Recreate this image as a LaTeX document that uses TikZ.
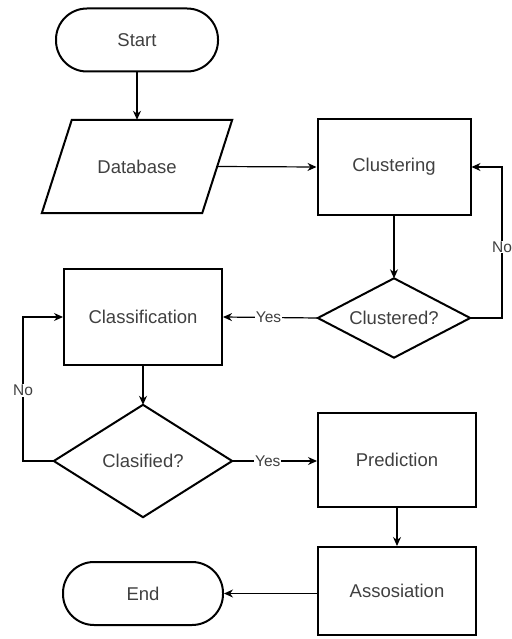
\documentclass[tikz,border=0pt]{standalone}
\usepackage{fontspec}
\setmainfont{Liberation Sans}
\usetikzlibrary{arrows.meta}
\definecolor{txt}{HTML}{404040}
\begin{document}
\begin{tikzpicture}[x=1pt,y=-1pt,
  every node/.style={font=\fontsize{18.5}{21}\selectfont, text=txt, inner sep=0pt},
  box/.style={draw, line width=2pt, minimum width=#1},
  box/.default=156pt,
  term/.style={draw, line width=2pt, rounded corners=31pt, minimum height=63pt},
  plain/.style={},
  shapeline/.style={line width=2pt, line join=miter},
  conn/.style={line width=1.2pt, -{Stealth[length=9pt,width=8pt]}},
  lbl/.style={fill=white, font=\fontsize{15.5}{17}\selectfont, inner sep=1pt}]
\useasboundingbox (0,0) rectangle (511,639);
% nodes
\node[term, minimum width=162pt] (start) at (137,40) {Start};
\node[plain, minimum width=190pt, minimum height=93pt] (db) at (137,166.5) {Database};
\draw[shapeline] ([xshift=30pt]db.north west) -- (db.north east) -- ([xshift=-30pt]db.south east) -- (db.south west) -- cycle;
\node[box=153pt, minimum height=95pt] (clus) at (394,167) {Clustering};
\node[plain, minimum width=152pt, minimum height=79pt] (cd) at (394,318) {Clustered?};
\draw[shapeline] (cd.north) -- (cd.east) -- (cd.south) -- (cd.west) -- cycle;
\node[box=158pt, minimum height=96pt] (cls) at (143,317) {Classification};
\node[plain, minimum width=178pt, minimum height=112pt] (cf) at (143,461) {Clasified?};
\draw[shapeline] (cf.north) -- (cf.east) -- (cf.south) -- (cf.west) -- cycle;
\node[box=158pt, minimum height=94pt] (pred) at (397,460) {Prediction};
\node[box=158pt, minimum height=88pt] (asso) at (397,591) {Assosiation};
\node[term, minimum width=160pt] (end) at (143,593.5) {End};
% connectors
\draw[conn] (start.south) -- (db.north);
\draw[conn] ([xshift=-15pt]db.east) -- (clus.west);
\draw[conn] (clus.south) -- (cd.north);
\draw[conn] (cd.west) -- node[lbl, pos=0.52] {Yes} (cls.east);
\coordinate (nr) at (502,318);
\draw[conn] (cd.east) -- (nr) |- node[lbl, pos=0.235] {No} (clus.east);
\draw[conn] (cls.south) -- (cf.north);
\coordinate (nl) at (23,461);
\draw[conn] (cf.west) -- (nl) |- node[lbl, pos=0.246] {No} (cls.west);
\draw[conn] (cf.east) -- node[lbl, pos=0.42] {Yes} (pred.west |- cf.east);
\draw[conn] (pred.south) -- (asso.north);
\draw[conn] (asso.west |- end.east) -- (end.east);
\end{tikzpicture}
\end{document}
